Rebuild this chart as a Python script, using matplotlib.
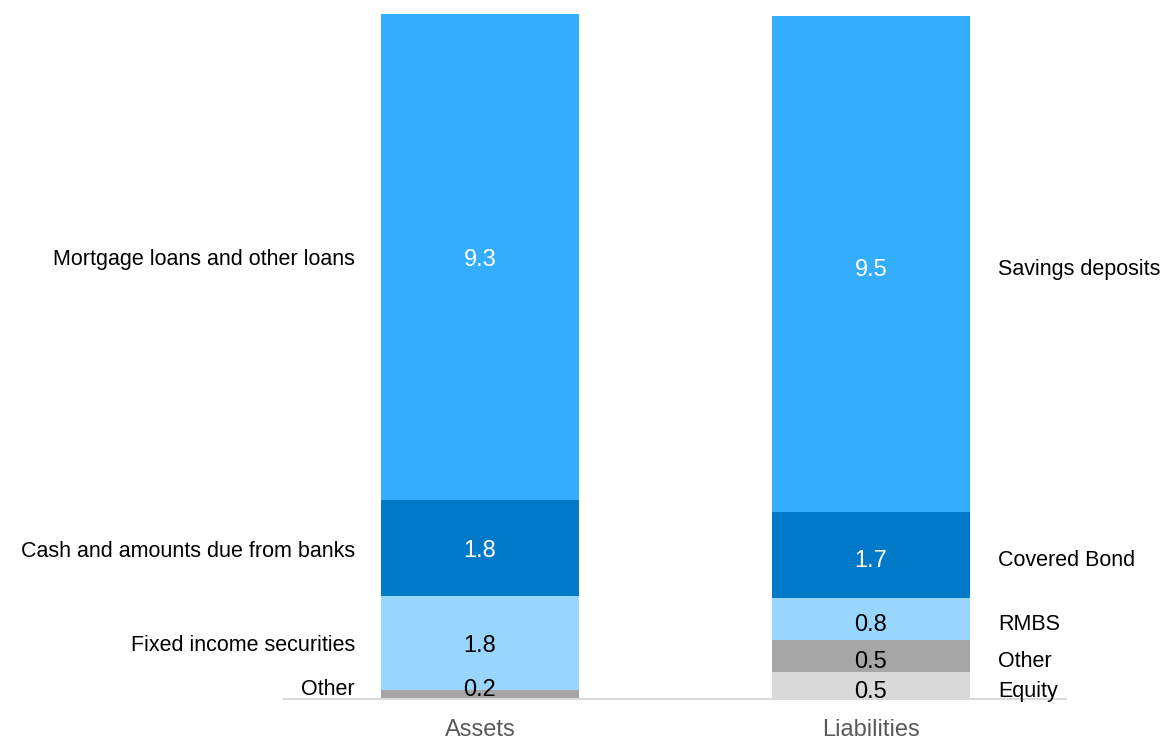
import numpy as np
import matplotlib.pyplot as plt

plt.rcParams['font.family'] = ['Liberation Sans', 'DejaVu Sans']

# Data (EUR bn) - bar heights, labels as printed
columns = ['Assets', 'Liabilities']
asset_names = ['Other', 'Fixed income securities', 'Cash and amounts due from banks',
               'Mortgage loans and other loans']
asset_values = [0.19, 1.78, 1.83, 9.29]
asset_labels = ['0.2', '1.8', '1.8', '9.3']
liab_names = ['Equity', 'Other', 'RMBS', 'Covered Bond', 'Savings deposits']
liab_values = [0.53, 0.61, 0.80, 1.64, 9.47]
liab_labels = ['0.5', '0.5', '0.8', '1.7', '9.5']

asset_colors = ['#a6a6a6', '#99d6ff', '#0079c9', '#33adff']
liab_colors = ['#d9d9d9', '#a6a6a6', '#99d6ff', '#0079c9', '#33adff']
asset_text = ['black', 'black', 'white', 'white']
liab_text = ['black', 'black', 'black', 'white', 'white']

fig = plt.figure(figsize=(11.61, 7.39), dpi=100)
ax = fig.add_axes([0.245, 0.0535, 0.6735, 0.9465])

width = 0.506


def draw_stack(x, names, values, labels, colors, tcolors, side, dy):
    bottoms = np.concatenate(([0], np.cumsum(values)[:-1]))
    for name, v, lab, b, c, tc in zip(names, values, labels, bottoms, colors, tcolors):
        ax.bar(x, v, width=width, bottom=b, color=c, edgecolor='none')
        yc = max(b + v / 2, 0.24)
        ax.annotate(lab, (x, yc), xytext=(0, dy), textcoords='offset pixels',
                    ha='center', va='center', fontsize=17, color=tc)
        if side == 'left':
            ax.annotate(name, (x - width / 2, yc), xytext=(-26, dy),
                        textcoords='offset pixels', ha='right', va='center',
                        fontsize=15.5, color='black', annotation_clip=False)
        else:
            ax.annotate(name, (x + width / 2, yc), xytext=(28, dy),
                        textcoords='offset pixels', ha='left', va='center',
                        fontsize=15.5, color='black', annotation_clip=False)


draw_stack(0, asset_names, asset_values, asset_labels, asset_colors, asset_text, 'left', -3)
draw_stack(1, liab_names, liab_values, liab_labels, liab_colors, liab_text, 'right', -6)

ax.set_xlim(-0.5, 1.5)
ax.set_ylim(0, 13.35)
ax.set_xticks([0, 1])
ax.set_xticklabels(columns, fontsize=17, color='#595959')
ax.tick_params(axis='x', length=0, pad=14)
ax.set_yticks([])
for s in ['top', 'right', 'left']:
    ax.spines[s].set_visible(False)
ax.spines['bottom'].set_color('#d9d9d9')
ax.spines['bottom'].set_linewidth(1.5)
ax.patch.set_visible(False)

fig.savefig('out.png', dpi=100)
